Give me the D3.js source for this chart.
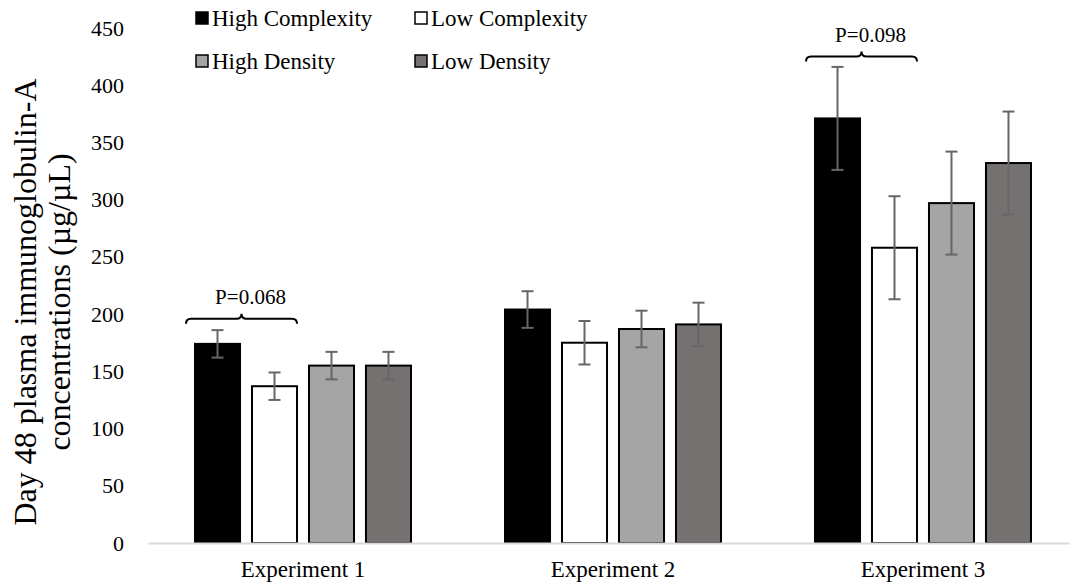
<!DOCTYPE html>
<html>
<head>
<meta charset="utf-8">
<script src="https://cdn.jsdelivr.net/npm/d3@7"></script>
<style>
	body { margin: 0; background: #fff; }
	svg { display: block; font-family: "Liberation Serif", "Times New Roman", serif; }
</style>
</head>
<body>
<svg id="chart" width="1070" height="587"></svg>
<script>
// data
const experiments = ["Experiment 1", "Experiment 2", "Experiment 3"];
const seriesNames = ["High Complexity", "Low Complexity", "High Density", "Low Density"];
const highComplexity = [174, 204, 371];
const lowComplexity = [137, 175, 258];
const highDensity = [155, 187, 297];
const lowDensity = [155, 191, 332];
const errHighComplexity = [12, 16, 45];
const errLowComplexity = [12, 19, 45];
const errHighDensity = [12, 16, 45];
const errLowDensity = [12, 19, 45];
const yTicks = [0, 50, 100, 150, 200, 250, 300, 350, 400, 450];
const pLabels = ["P=0.068", null, "P=0.098"];
const pLevels = [196, null, 425];

const fills = ["#000000", "#ffffff", "#a5a5a5", "#767171"];

const values = [highComplexity, lowComplexity, highDensity, lowDensity];
const errors = [errHighComplexity, errLowComplexity, errHighDensity, errLowDensity];

const svg = d3.select("#chart");
const margin = { left: 148, right: 1078, top: 28, bottom: 543 };

const x0 = d3.scaleBand()
	.domain(experiments)
	.range([margin.left, margin.right]);
const x1 = d3.scaleBand()
	.domain(seriesNames)
	.range([-108, 108])
	.paddingInner(0.21);
const y = d3.scaleLinear()
	.domain([0, 450])
	.range([margin.bottom, margin.top]);

const center = (e) => x0(e) + x0.bandwidth() / 2;

// y axis labels (no line, no ticks)
const yAxis = svg.append("g")
	.attr("transform", "translate(124,0)")
	.call(d3.axisLeft(y).tickValues(yTicks).tickSize(0).tickPadding(0));
yAxis.select(".domain").remove();
yAxis.selectAll("text")
	.attr("font-family", "Liberation Serif")
	.attr("font-size", 22)
	.attr("fill", "#000");

// bars
const rows = [];
seriesNames.forEach((s, si) => {
	experiments.forEach((e, ei) => {
		rows.push({ s, si, e, v: values[si][ei], err: errors[si][ei] });
	});
});

svg.append("g").selectAll("rect")
	.data(rows)
	.join("rect")
	.attr("x", d => center(d.e) + x1(d.s))
	.attr("y", d => y(d.v))
	.attr("width", x1.bandwidth())
	.attr("height", d => y(0) - y(d.v))
	.attr("fill", d => fills[d.si])
	.attr("stroke", "#000")
	.attr("stroke-width", 2);

// x axis line
const xAxis = svg.append("g")
	.attr("transform", `translate(0,${y(0)})`)
	.call(d3.axisBottom(x0).tickSize(0).tickPadding(18));
xAxis.select(".domain").attr("stroke", "#d9d9d9").attr("stroke-width", 2);
xAxis.selectAll("text")
	.attr("font-family", "Liberation Serif")
	.attr("font-size", 23)
	.attr("fill", "#000");

// error bars
const eb = svg.append("g").attr("stroke", "#666666").attr("stroke-width", 2);
rows.forEach(d => {
	const cx = center(d.e) + x1(d.s) + x1.bandwidth() / 2;
	eb.append("line").attr("x1", cx).attr("x2", cx).attr("y1", y(d.v + d.err)).attr("y2", y(d.v - d.err));
	eb.append("line").attr("x1", cx - 6).attr("x2", cx + 6).attr("y1", y(d.v + d.err)).attr("y2", y(d.v + d.err));
	eb.append("line").attr("x1", cx - 6).attr("x2", cx + 6).attr("y1", y(d.v - d.err)).attr("y2", y(d.v - d.err));
});

// curly brackets with P values over the complexity pair
experiments.forEach((e, i) => {
	if (!pLabels[i]) return;
	const xa = center(e) + x1(seriesNames[0]) - 9;
	const xb = center(e) + x1(seriesNames[1]) + x1.bandwidth();
	const xm = (xa + xb) / 2;
	const yy = y(pLevels[i]);
	const p = d3.path();
	p.moveTo(xa, yy + 5);
	p.quadraticCurveTo(xa, yy, xa + 5, yy);
	p.lineTo(xm - 5, yy);
	p.quadraticCurveTo(xm, yy, xm, yy - 5);
	p.quadraticCurveTo(xm, yy, xm + 5, yy);
	p.lineTo(xb - 5, yy);
	p.quadraticCurveTo(xb, yy, xb, yy + 5);
	svg.append("path")
		.attr("d", p.toString())
		.attr("fill", "none")
		.attr("stroke", "#000")
		.attr("stroke-width", 2);
	svg.append("text")
		.attr("x", xm + 9)
		.attr("y", yy - 15)
		.attr("text-anchor", "middle")
		.attr("font-size", 21)
		.text(pLabels[i]);
});

// legend
const legend = svg.append("g");
const legendPos = [[196, 18], [415, 18], [196, 61], [415, 61]];
seriesNames.forEach((s, i) => {
	const [lx, ly] = legendPos[i];
	legend.append("rect")
		.attr("x", lx).attr("y", ly - 6)
		.attr("width", 12).attr("height", 12)
		.attr("fill", fills[i])
		.attr("stroke", "#000")
		.attr("stroke-width", 1.5);
	legend.append("text")
		.attr("x", lx + 16).attr("y", ly)
		.attr("dy", "0.35em")
		.attr("font-size", 23)
		.text(s);
});

// y axis title, two lines
const title = svg.append("text")
	.attr("transform", "translate(36,302) rotate(-90)")
	.attr("text-anchor", "middle")
	.attr("font-size", 32);
title.append("tspan").attr("x", 0).attr("dy", 0).text("Day 48 plasma immunoglobulin-A");
title.append("tspan").attr("x", 0).attr("dy", 34).text("concentrations  (µg/µL)");
</script>
</body>
</html>
